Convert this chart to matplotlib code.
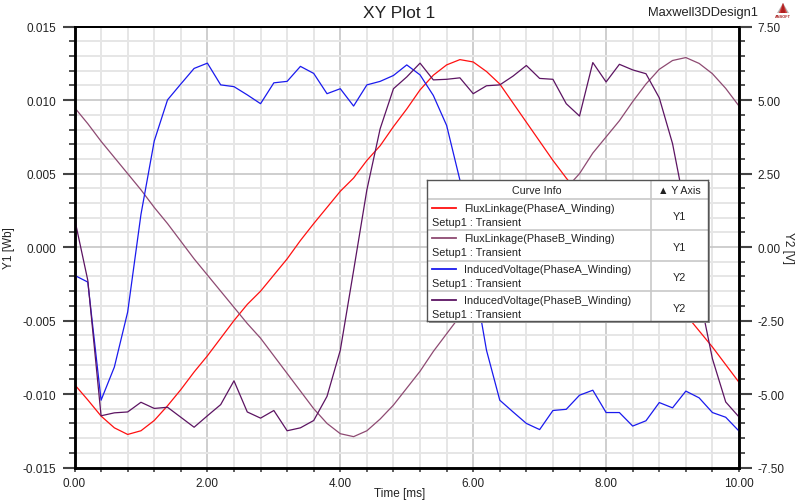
import numpy as np
import matplotlib
matplotlib.use("Agg")
import matplotlib.pyplot as plt
from matplotlib.ticker import MultipleLocator, FormatStrFormatter
from matplotlib.patches import Rectangle, Polygon

plt.rcParams['font.family'] = ['Liberation Sans', 'DejaVu Sans']

# tempo em ms, passo de 0.2
tempo = np.round(np.arange(51) * 0.2, 1)

fluxo_a = [-0.00935, -0.0104, -0.0115, -0.0123, -0.01275, -0.0125, -0.0118, -0.0108, -0.0097, -0.0085,
           -0.0074, -0.0062, -0.0050, -0.0039, -0.0030, -0.0019, -0.0008, 0.00045, 0.0016, 0.0027,
           0.0038, 0.0047, 0.0059, 0.0069, 0.0082, 0.0094, 0.0107, 0.0117, 0.0124, 0.01276,
           0.0126, 0.01195, 0.0111, 0.0098, 0.0085, 0.0072, 0.0059, 0.0047, 0.0036, 0.0025,
           0.0014, 0.0003, -0.0008, -0.0018, -0.0028, -0.0037, -0.0046, -0.0057, -0.0068, -0.0080,
           -0.0092]

fluxo_b = [0.0095, 0.0084, 0.0072, 0.0061, 0.0050, 0.0039, 0.0027, 0.0016, 0.0004, -0.0008,
           -0.0019, -0.0030, -0.0041, -0.0052, -0.0062, -0.0074, -0.0086, -0.0098, -0.0110, -0.0120,
           -0.0127, -0.0129, -0.0125, -0.0117, -0.01075, -0.0096, -0.00845, -0.0071, -0.0059, -0.0047,
           -0.0035, -0.0024, -0.0013, -0.0003, 0.0008, 0.0019, 0.0030, 0.0040, 0.0050, 0.0064,
           0.0075, 0.0086, 0.0099, 0.0111, 0.0121, 0.0127, 0.0129, 0.0125, 0.0118, 0.0108,
           0.0096]

tensao_a = [-0.96, -1.19, -5.21, -4.08, -2.21, 1.11, 3.61, 5.01, 5.55, 6.08,
            6.26, 5.52, 5.46, 5.18, 4.88, 5.59, 5.64, 6.15, 5.91, 5.22,
            5.39, 4.80, 5.52, 5.64, 5.84, 6.20, 5.86, 5.16, 4.14, 2.28,
            -0.90, -3.51, -5.21, -5.61, -6.00, -6.21, -5.56, -5.52, -5.04, -4.87,
            -5.63, -5.63, -6.09, -5.91, -5.29, -5.47, -4.90, -5.13, -5.63, -5.79,
            -6.26]

tensao_b = [0.98, -1.13, -5.74, -5.64, -5.61, -5.28, -5.49, -5.45, -5.79, -6.13,
            -5.74, -5.36, -4.55, -5.61, -5.82, -5.56, -6.25, -6.15, -5.90, -5.08,
            -3.51, -0.80, 1.95, 4.03, 5.39, 5.79, 6.26, 5.69, 5.71, 5.76,
            5.22, 5.49, 5.52, 5.82, 6.18, 5.74, 5.71, 4.88, 4.46, 6.28,
            5.62, 6.22, 6.03, 5.90, 5.08, 3.52, 1.20, -1.58, -3.80, -5.27,
            -5.78]

nomes = ["FluxLinkage(PhaseA_Winding)", "FluxLinkage(PhaseB_Winding)",
         "InducedVoltage(PhaseA_Winding)", "InducedVoltage(PhaseB_Winding)"]
eixos = ["Y1", "Y1", "Y2", "Y2"]
cores = ["#ff1010", "#8e4a72", "#1a1aee", "#5c1462"]

W, H = 795, 502
fig = plt.figure(figsize=(W / 100, H / 100), dpi=100)
ax1 = fig.add_axes([74.5 / W, 1 - 468.5 / H, 664.5 / W, 440.8 / H])
ax2 = ax1.twinx()

ax1.set_xlim(0, 10)
ax1.set_ylim(-0.015, 0.015)
ax2.set_ylim(-7.5, 7.5)

# grade
ax1.xaxis.set_major_locator(MultipleLocator(2))
ax1.xaxis.set_minor_locator(MultipleLocator(0.4))
ax1.yaxis.set_major_locator(MultipleLocator(0.005))
ax1.yaxis.set_minor_locator(MultipleLocator(0.001))
ax2.yaxis.set_major_locator(MultipleLocator(2.5))
ax2.yaxis.set_minor_locator(MultipleLocator(0.5))
ax1.grid(True, which="minor", color="#e6e6e6", linewidth=1.4)
ax1.grid(True, which="major", color="#c6c6c6", linewidth=1.2)
ax1.set_axisbelow(True)

ax1.xaxis.set_major_formatter(FormatStrFormatter("%.2f"))
ax1.yaxis.set_major_formatter(FormatStrFormatter("%.3f"))
ax2.yaxis.set_major_formatter(FormatStrFormatter("%.2f"))

for a in (ax1, ax2):
    for lado in a.spines.values():
        lado.set_color("black")
    a.spines["left"].set_linewidth(1.8)
    a.spines["right"].set_linewidth(1.8)
    a.spines["bottom"].set_linewidth(1.8)
    a.spines["top"].set_linewidth(1.4)

ax1.tick_params(axis="y", which="major", length=9, width=1.5, color="#444444", pad=4,
                labelsize=8.5, labelcolor="#222222")
ax1.tick_params(axis="y", which="minor", length=4.5, width=1.3, color="#444444")
ax1.tick_params(axis="x", which="major", length=3, width=1.2, color="#444444", pad=4,
                labelsize=8.5, labelcolor="#222222")
ax1.tick_params(axis="x", which="minor", length=3, width=1.2, color="#444444")
ax2.tick_params(axis="y", which="major", length=9, width=1.5, color="#444444", pad=4,
                labelsize=8.5, labelcolor="#222222")
ax2.tick_params(axis="y", which="minor", length=4.5, width=1.3, color="#444444")

ax1.plot(tempo, fluxo_a, color=cores[0], linewidth=0.9)
ax1.plot(tempo, fluxo_b, color=cores[1], linewidth=0.9)
ax2.plot(tempo, tensao_a, color=cores[2], linewidth=0.9)
ax2.plot(tempo, tensao_b, color=cores[3], linewidth=0.9)

# textos
fig.text(399 / W, 1 - 14 / H, "XY Plot 1", ha="center", va="center", fontsize=12.5, color="#222222")
fig.text(703 / W, 1 - 13 / H, "Maxwell3DDesign1", ha="center", va="center", fontsize=9.3, color="#222222")
fig.text(400 / W, 1 - 494 / H, "Time [ms]", ha="center", va="center", fontsize=8.5, color="#222222")
fig.text(9 / W, 1 - 248 / H, "Y1 [Wb]", ha="center", va="center", rotation=90, fontsize=8.5, color="#222222")
fig.text(788 / W, 1 - 248 / H, "Y2 [V]", ha="center", va="center", rotation=-90, fontsize=8.5, color="#222222")

# logo
for k, c in enumerate(["#b8b8b8", "#d04040", "#b02020"]):
    off = k * 1.8
    fig.add_artist(Polygon([((777 + off) / W, 1 - 14 / H), ((783) / W, 1 - 4 / H),
                            ((789 - off) / W, 1 - 14 / H)], closed=True, facecolor=c,
                           edgecolor="none", transform=fig.transFigure))
fig.text(783 / W, 1 - 17.5 / H, "ANSOFT", ha="center", va="center", fontsize=2.8, color="#aa2222",
         fontweight="bold")

# caixa de legenda
lx, ly, lw, lh = 427.3, 181, 281, 141
fig.add_artist(Rectangle(((lx + 2) / W, 1 - (ly + lh + 2) / H), lw / W, lh / H,
                         transform=fig.transFigure, facecolor="#9a9a9a", edgecolor="none", zorder=5))
leg = fig.add_axes([lx / W, 1 - (ly + lh) / H, lw / W, lh / H], zorder=6)
leg.set_xlim(0, lw)
leg.set_ylim(lh, 0)
leg.set_xticks([])
leg.set_yticks([])
for lado in leg.spines.values():
    lado.set_color("#555555")
    lado.set_linewidth(1.0)

leg.axvline(223.7, color="#c8c8c8", linewidth=1.2)
for yy in [19, 50, 80.7, 111.3]:
    leg.axhline(yy, color="#c8c8c8", linewidth=1.2)
leg.text(109.4, 10.5, "Curve Info", ha="center", va="center", fontsize=7.7, color="#222222")
leg.text(252, 10.5, "\u25b2 Y Axis", ha="center", va="center", fontsize=7.7, color="#222222")
for i in range(4):
    topo = 19 + 30.7 * i
    leg.plot([4.4, 28.4], [topo + 8.7, topo + 8.7], color=cores[i], linewidth=1.3)
    leg.text(37, topo + 8.7, nomes[i], ha="left", va="center", fontsize=7.8, color="#222222")
    leg.text(4.4, topo + 22.7, "Setup1 : Transient", ha="left", va="center", fontsize=7.8,
             color="#222222")
    leg.text(252, topo + 17, eixos[i], ha="center", va="center", fontsize=7.8, color="#222222")

fig.savefig("out.png", dpi=100)
